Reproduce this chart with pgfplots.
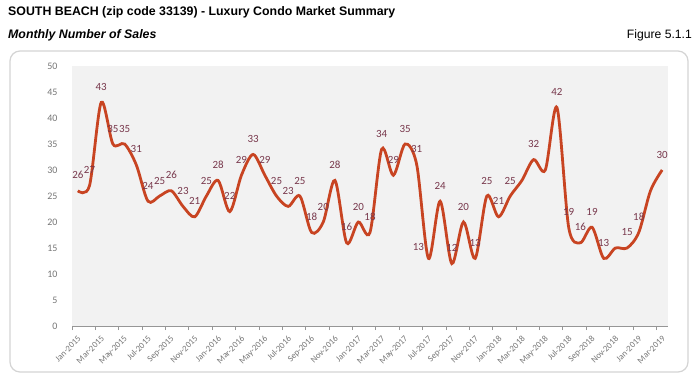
\documentclass[border=0pt]{standalone}
\usepackage{fontspec}
\setmainfont{Liberation Sans}
\newfontfamily\carlito{Carlito}
\usepackage{pgfplots}
\pgfplotsset{compat=1.18}
\definecolor{linec}{RGB}{200,68,34}
\definecolor{labc}{RGB}{120,56,76}
\definecolor{tickc}{RGB}{118,118,118}
\definecolor{plotbg}{RGB}{242,242,242}
\definecolor{framec}{RGB}{212,212,212}
\definecolor{axisc}{RGB}{150,150,150}
\begin{document}
\begin{tikzpicture}
\useasboundingbox (0,0) rectangle (700bp,-383bp);
\fill[white] (0,0) rectangle (700bp,-383bp);
\node[anchor=west, inner sep=0pt] at (8bp,-12bp) {\fontsize{12.4}{14}\selectfont\bfseries SOUTH BEACH (zip code 33139) - Luxury Condo Market Summary};
\node[anchor=west, inner sep=0pt] at (8bp,-35bp) {\fontsize{12.4}{14}\selectfont\bfseries\itshape Monthly Number of Sales};
\node[anchor=east, inner sep=0pt] at (692bp,-35bp) {\fontsize{12.2}{14}\selectfont Figure 5.1.1};
\draw[rounded corners=10bp, draw=framec, line width=1.2bp] (10bp,-51bp) rectangle (688bp,-372bp);
\begin{axis}[
  at={(72bp,-326bp)}, anchor=south west,
  scale only axis, width=596bp, height=260bp,
  xmin=-0.5, xmax=50.5, ymin=0, ymax=50,
  /pgf/number format/assume math mode=true,
  axis background/.style={fill=plotbg},
  axis x line*=bottom, axis y line*=left,
  x axis line style={draw=axisc, line width=0.9bp},
  y axis line style={draw=none},
  ytick={0,5,...,50},
  xtick={0,2,...,50},
  xticklabels={Jan-2015,Mar-2015,May-2015,Jul-2015,Sep-2015,Nov-2015,Jan-2016,Mar-2016,May-2016,Jul-2016,Sep-2016,Nov-2016,Jan-2017,Mar-2017,May-2017,Jul-2017,Sep-2017,Nov-2017,Jan-2018,Mar-2018,May-2018,Jul-2018,Sep-2018,Nov-2018,Jan-2019,Mar-2019},
  minor xtick={-0.5,1.5,...,49.5},
  tick align=outside,
  major tick length=0pt, minor tick length=4bp,
  minor tick style={draw=axisc, line width=0.8bp},
  major tick style={draw=none},
  xticklabel style={font=\carlito\fontsize{8.8}{9}\selectfont, text=tickc, xshift=4bp, yshift=-9bp, rotate=45, anchor=east},
  yticklabel style={font=\carlito\fontsize{10}{10}\selectfont, text=tickc, xshift=-11bp},
  clip=false,
]
\addplot[linec, line width=2.8bp, smooth] coordinates {
(0,26)(1,27)(2,43)(3,35)(4,35)(5,31)(6,24)(7,25)(8,26)(9,23)(10,21)(11,25)(12,28)(13,22)(14,29)(15,33)(16,29)(17,25)(18,23)(19,25)(20,18)(21,20)(22,28)(23,16)(24,20)(25,18)(26,34)(27,29)(28,35)(29,31)(30,13)(31,24)(32,12)(33,20)(34,13)(35,25)(36,21)(37,25)(38,28)(39,32)(40,30)(41,42)(42,19)(43,16)(44,19)(45,13)(46,15)(47,15)(48,18)(49,26)(50,30)
};
\addplot[draw=none, nodes near coords,
  every node near coord/.append style={anchor=center, yshift=15.5bp, font=\carlito\fontsize{11}{11}\selectfont, text=labc}] coordinates {
(0,26)(1,27)(2,43)(3,35)(4,35)(5,31)(6,24)(7,25)(8,26)(9,23)(10,21)(11,25)(12,28)(13,22)(14,29)(15,33)(16,29)(17,25)(18,23)(19,25)(20,18)(21,20)(22,28)(23,16)(24,20)(25,18)(26,34)(27,29)(28,35)(29,31)(31,24)(32,12)(33,20)(34,13)(35,25)(36,21)(37,25)(39,32)(41,42)(42,19)(43,16)(44,19)(45,13)(47,15)(48,18)(50,30)
};
\addplot[draw=none, nodes near coords,
  every node near coord/.append style={anchor=center, xshift=-10bp, yshift=11bp, font=\carlito\fontsize{11}{11}\selectfont, text=labc}] coordinates {
(30,13)
};
\end{axis}
\end{tikzpicture}
\end{document}
